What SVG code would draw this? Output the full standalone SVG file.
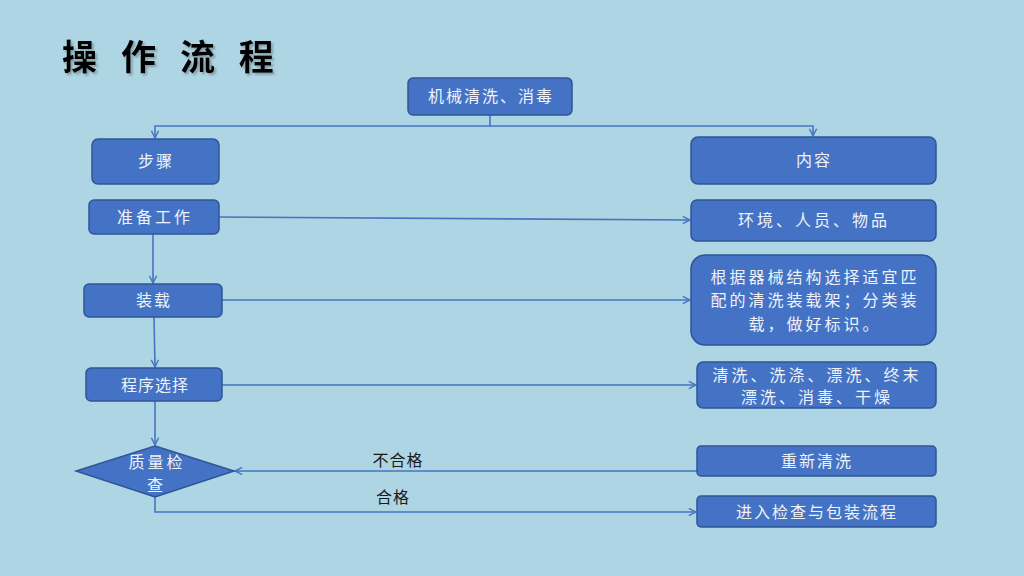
<svg xmlns="http://www.w3.org/2000/svg" width="1024" height="576" viewBox="0 0 1024 576">
<style>
.box{fill:#4472C4;stroke:#2F5597;stroke-width:1.5}
.t{font-family:"Noto Sans CJK SC","Noto Sans",sans-serif;font-size:16px;fill:#EEF3FA;text-anchor:middle}
.lbl{font-family:"Noto Sans CJK SC","Noto Sans",sans-serif;font-size:16px;fill:#1A1A1A;text-anchor:middle}
.c{fill:none;stroke:#4674C2;stroke-width:1.6}
</style>
<defs>
<marker id="ah" viewBox="0 0 10 10" refX="9" refY="5" markerWidth="9" markerHeight="9" markerUnits="userSpaceOnUse" orient="auto">
<path d="M1,1 L9,5 L1,9" fill="none" stroke="#4674C2" stroke-width="1.6"/>
</marker>
<filter id="sh" x="-5%" y="-20%" width="110%" height="140%">
<feDropShadow dx="2" dy="2" stdDeviation="1" flood-color="#6a7a80" flood-opacity="0.6"/>
</filter>
</defs>
<rect x="0" y="0" width="1024" height="576" fill="#ADD5E3"/>
<text x="62" y="70" font-family="'Noto Sans CJK SC',sans-serif" font-size="35" font-weight="bold" fill="#000" filter="url(#sh)" letter-spacing="8">操 作 流 程</text>

<g id="connectors">
<path class="c" d="M490,115 V126 H155 V138" marker-end="url(#ah)"/>
<path class="c" d="M490,126 H813 V136" marker-end="url(#ah)"/>
<path class="c" d="M219,217 L690,220" marker-end="url(#ah)"/>
<path class="c" d="M153,234 V283" marker-end="url(#ah)"/>
<path class="c" d="M222,300 H690" marker-end="url(#ah)"/>
<path class="c" d="M154,317 L155,367" marker-end="url(#ah)"/>
<path class="c" d="M222,385 H696" marker-end="url(#ah)"/>
<path class="c" d="M155,401 V445" marker-end="url(#ah)"/>
<path class="c" d="M697,471 H235" marker-end="url(#ah)"/>
<path class="c" d="M155,497 V512 H696" marker-end="url(#ah)"/>
<text class="lbl" x="398" y="466" letter-spacing="1">不合格</text>
<text class="lbl" x="393" y="503" letter-spacing="1">合格</text>
</g>

<g id="n-start"><rect class="box" x="408" y="78" width="164" height="37" rx="5"/><text class="t" x="491" y="102" letter-spacing="2">机械清洗、消毒</text></g>
<g id="n-steps"><rect class="box" x="92" y="139" width="127" height="45" rx="6"/><text class="t" x="156" y="167" letter-spacing="2">步骤</text></g>
<g id="n-content"><rect class="box" x="691" y="137" width="245" height="47" rx="7"/><text class="t" x="814" y="166" letter-spacing="2">内容</text></g>
<g id="n-prep"><rect class="box" x="89" y="200" width="130" height="34" rx="5"/><text class="t" x="155" y="223" letter-spacing="3">准备工作</text></g>
<g id="n-prep-c"><rect class="box" x="691" y="200" width="245" height="41" rx="6"/><text class="t" x="814" y="226" letter-spacing="3">环境、人员、物品</text></g>
<g id="n-load"><rect class="box" x="84" y="284" width="138" height="33" rx="5"/><text class="t" x="154" y="306" letter-spacing="2">装载</text></g>
<g id="n-load-c"><rect class="box" x="691" y="255" width="245" height="90" rx="14"/>
<text class="t" x="815" y="283" letter-spacing="3">根据器械结构选择适宜匹</text>
<text class="t" x="815" y="306" letter-spacing="3">配的清洗装载架；分类装</text>
<text class="t" x="815" y="330" letter-spacing="3">载，做好标识。</text></g>
<g id="n-prog"><rect class="box" x="86" y="368" width="136" height="33" rx="5"/><text class="t" x="155" y="391" letter-spacing="1">程序选择</text></g>
<g id="n-prog-c"><rect class="box" x="697" y="362" width="239" height="46" rx="6"/>
<text class="t" x="817" y="381" letter-spacing="3">清洗、洗涤、漂洗、终末</text>
<text class="t" x="817" y="403" letter-spacing="3">漂洗、消毒、干燥</text></g>
<g id="n-check"><polygon class="box" points="155,446 234,471 155,497 76,471"/>
<text class="t" x="157" y="468" letter-spacing="3">质量检</text>
<text class="t" x="155" y="491">查</text></g>
<g id="n-redo"><rect class="box" x="697" y="446" width="239" height="30" rx="4"/><text class="t" x="817" y="467" letter-spacing="2">重新清洗</text></g>
<g id="n-next"><rect class="box" x="697" y="496" width="239" height="31" rx="4"/><text class="t" x="817" y="518" letter-spacing="2">进入检查与包装流程</text></g>
</svg>
